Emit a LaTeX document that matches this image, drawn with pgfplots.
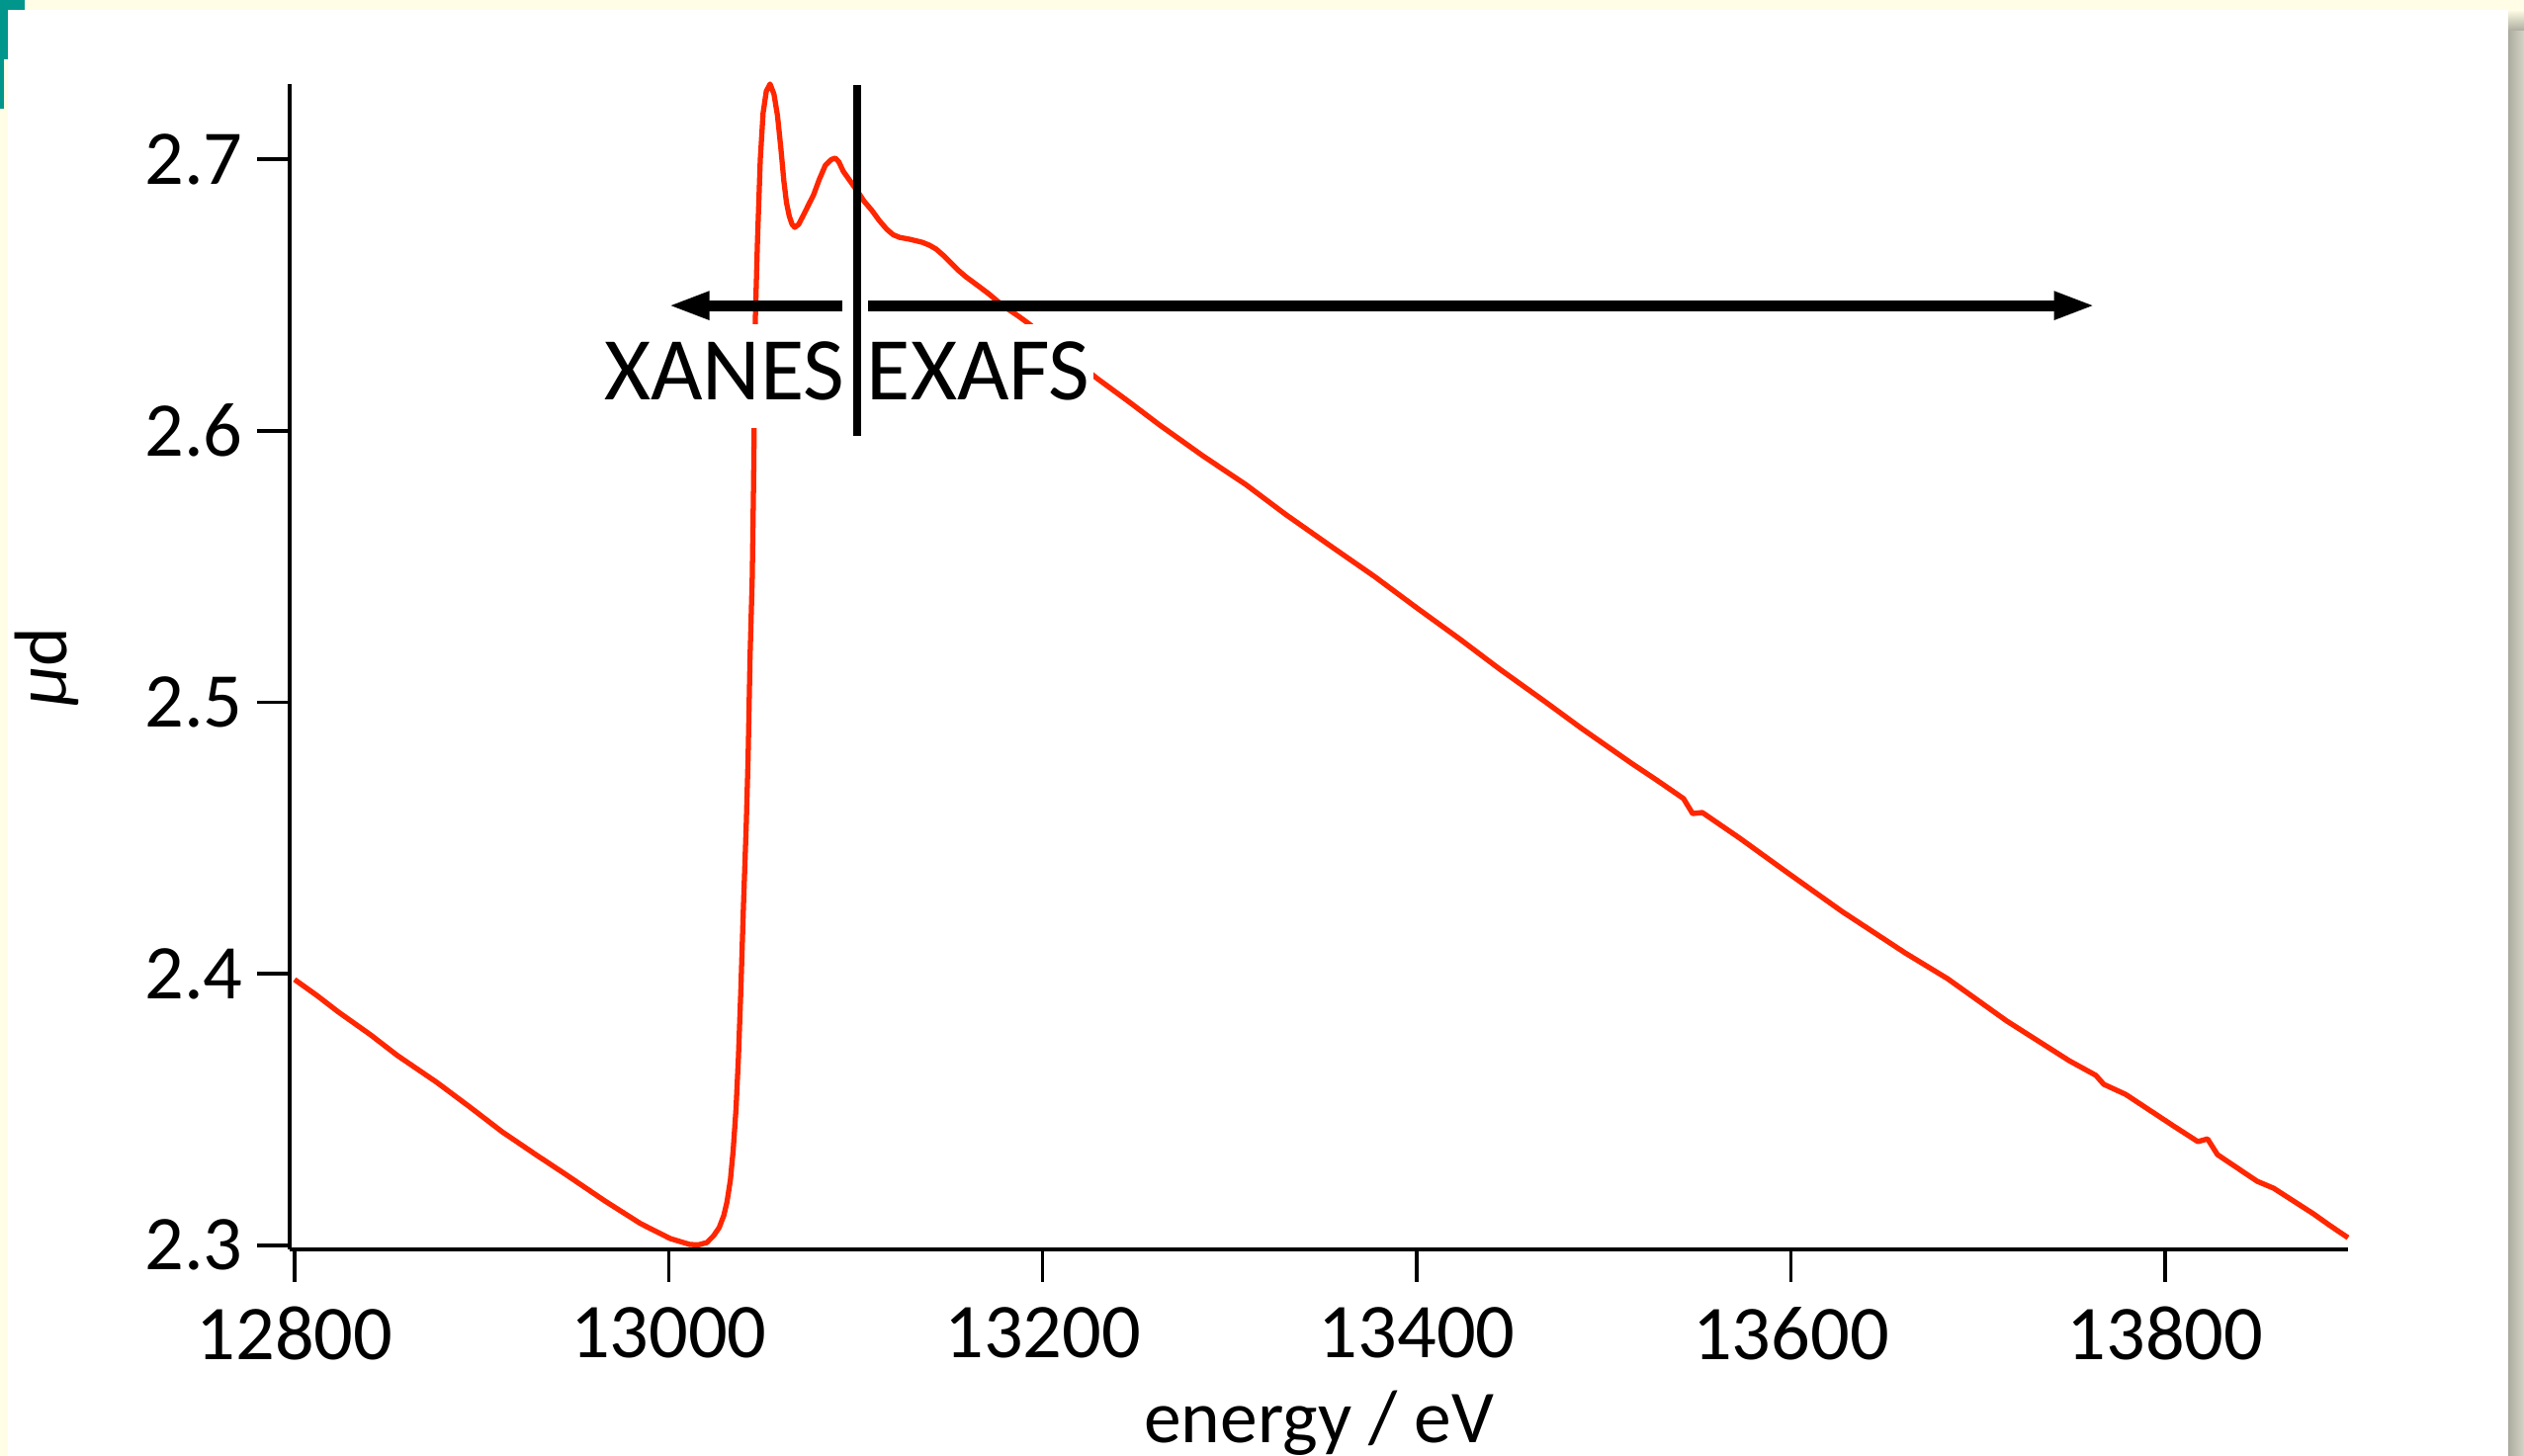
\documentclass[border=0pt]{standalone}
\usepackage{fontspec}
\setmainfont{Carlito}
\usepackage{pgfplots}
\pgfplotsset{compat=1.18}
\usetikzlibrary{arrows.meta}
\definecolor{cream}{RGB}{255,253,229}
\definecolor{tealmark}{RGB}{0,150,140}
\definecolor{curvered}{RGB}{255,38,0}
\definecolor{shadowA}{RGB}{172,172,160}
\definecolor{shadowB}{RGB}{212,212,198}
\begin{document}
\begin{tikzpicture}
\useasboundingbox (0mm,0mm) rectangle (255.3mm,147.3mm);
\fill[cream] (0mm,0mm) rectangle (255.3mm,147.3mm);
\fill[white] (0.8mm,0mm) rectangle (253.7mm,146.3mm);
\shade[left color=shadowA, right color=shadowB] (253.7mm,0mm) rectangle (255.3mm,144.2mm);
\shade[top color=cream, bottom color=shadowA] (253.7mm,144.2mm) rectangle (255.3mm,146.3mm);
\fill[tealmark] (0mm,146.3mm) rectangle (2.5mm,147.3mm);
\fill[tealmark] (0mm,141.3mm) rectangle (0.8mm,147.3mm);
\fill[tealmark] (0mm,136.3mm) rectangle (0.4mm,141.3mm);
\begin{axis}[
  at={(29.3mm,20.9mm)}, anchor=south west,
  scale only axis, width=208.2mm, height=117.9mm,
  xmin=12797.4, xmax=13897.8, ymin=2.2985, ymax=2.7277,
  axis lines=left, axis line style={-, line width=1.1pt},
  xtick={12800,13000,13200,13400,13600,13800},
  ytick={2.3,2.4,2.5,2.6,2.7},
  tick align=outside, major tick length=3.3mm,
  tick style={line width=1.0pt, black},
  minor tick num=0,
  scaled x ticks=false, scaled y ticks=false,
  /pgf/number format/assume math mode=true,
  ticklabel style={font=\fontsize{22.3}{25}\selectfont},
  xticklabel style={/pgf/number format/1000 sep={}, yshift=-1.3mm},
  yticklabel style={/pgf/number format/fixed, /pgf/number format/precision=1, /pgf/number format/fixed zerofill, xshift=-0.2mm},
  xlabel={energy / eV}, ylabel={{\itshape μ}d},
  label style={font=\fontsize{21.5}{24}\selectfont},
  xlabel style={at={(axis description cs:0.5,-0.1662)}, anchor=base},
  ylabel style={at={(axis description cs:-0.1081,0.5)}, anchor=base},
  clip=false,
]
\addplot[curvered, line width=1.5pt, line join=round] coordinates {
(12800,2.3979) (12812,2.3920) (12823.3,2.3860) (12840.7,2.3775) (12855,2.3699)
(12876.1,2.3600) (12893.6,2.3510) (12911,2.3418) (12929,2.3334) (12944.8,2.3262)
(12966,2.3163) (12985,2.3080) (13000.8,2.3025) (13011.4,2.3003) (13016,2.3002)
(13020.4,2.3010) (13024,2.3035) (13027,2.3065) (13029.5,2.3110) (13031.2,2.3160)
(13033,2.3240) (13034.5,2.3350) (13036,2.3500) (13037.3,2.3690) (13038.6,2.3940)
(13040,2.4250) (13041.5,2.4550) (13042.5,2.4800) (13043.5,2.5160) (13044.7,2.5460)
(13045.4,2.5800) (13045.8,2.6060) (13046.3,2.6400) (13047.5,2.6700) (13049,2.7000)
(13050.5,2.7170) (13052.2,2.7250) (13054.2,2.7277) (13056.3,2.7240) (13058.2,2.7160)
(13060,2.7040) (13061.6,2.6920) (13063,2.6840) (13064.5,2.6790) (13066,2.6760)
(13067.4,2.6749) (13069.5,2.6760) (13072.2,2.6796) (13075,2.6835) (13077.5,2.6869)
(13080.5,2.6925) (13083.8,2.6978) (13087,2.6999) (13089.1,2.7004) (13091,2.6990)
(13093.3,2.6956) (13097,2.6920) (13100.7,2.6884) (13104.5,2.6845) (13108.7,2.6811)
(13112.5,2.6775) (13116.6,2.6742) (13120,2.6722) (13123.5,2.6712) (13129,2.6705)
(13135.6,2.6694) (13139.5,2.6683) (13143,2.6669) (13147,2.6645) (13151.5,2.6614)
(13155,2.6590) (13158.9,2.6567) (13165,2.6536) (13171,2.6505) (13176,2.6476)
(13181.6,2.6447) (13187,2.6422) (13192.2,2.6396) (13229.2,2.6192) (13246.6,2.6104)
(13262.5,2.6021) (13285.7,2.5907) (13308.5,2.5802) (13329.6,2.5693) (13354.4,2.5573)
(13377.2,2.5464) (13399.9,2.5348) (13423.1,2.5232) (13444.3,2.5122) (13468.6,2.5002)
(13488.2,2.4903) (13514.6,2.4776) (13530,2.4705) (13542.6,2.4645) (13547.4,2.4590)
(13552.6,2.4594) (13572.7,2.4499) (13597.6,2.4375) (13627.2,2.4230) (13661,2.4077)
(13683.7,2.3982) (13715.4,2.3826) (13748.7,2.3680) (13763,2.3626) (13767.2,2.3593)
(13778.9,2.3556) (13805.3,2.3436) (13817.5,2.3382) (13822.7,2.3392) (13828,2.3334)
(13849.2,2.3236) (13858.1,2.3210) (13879.3,2.3116) (13888.3,2.3072) (13897.8,2.3028)
};
\node[fill=white, anchor=base east, inner xsep=0.3mm, inner ysep=0pt, text height=7.6mm, text depth=2.9mm, font=\fontsize{25.8}{28}\selectfont] at (axis cs:13096,2.6115) {XANES};
\node[fill=white, anchor=base west, inner xsep=0.3mm, inner ysep=0pt, text height=7.6mm, text depth=2.9mm, font=\fontsize{25.8}{28}\selectfont] at (axis cs:13104,2.6115) {EXAFS};
\addplot[black, line width=2.3pt] coordinates {(13101,2.5981) (13101,2.7273)};
\addplot[black, line width=3.2pt, -{Triangle[length=4.2mm,width=2.6mm]}] coordinates {(13092.6,2.6461) (12999.6,2.6461)};
\addplot[black, line width=3.2pt, -{Triangle[length=4.2mm,width=2.6mm]}] coordinates {(13106.7,2.6461) (13762.8,2.6461)};
\end{axis}
\end{tikzpicture}
\end{document}
